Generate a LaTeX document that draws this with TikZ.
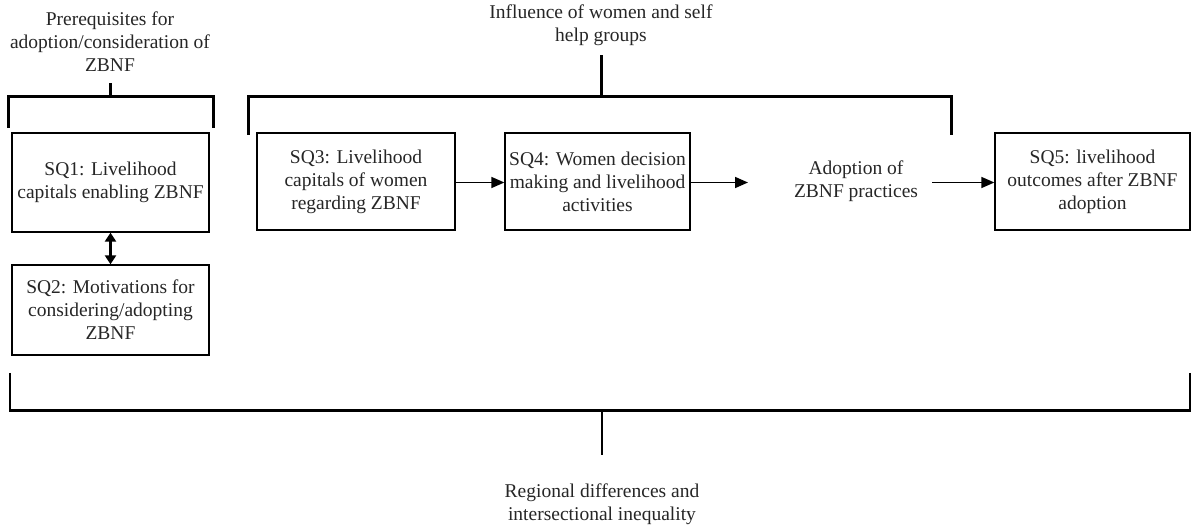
\documentclass[tikz,border=0pt]{standalone}
\usepackage{fontspec}
\setmainfont{Liberation Serif}
\usetikzlibrary{arrows.meta}
\begin{document}
\begin{tikzpicture}[x=1pt,y=-1pt,
  txt/.style={font=\fontsize{19.5}{23}\selectfont, text=black!85},
  box/.style={txt, draw, line width=1.3pt, align=center, inner sep=0pt},
  lbl/.style={txt, align=center, inner sep=0pt},
  brk/.style={line width=3pt},
  arr/.style={line width=1.6pt, -{Triangle[length=13pt,width=11pt]}},
  darr/.style={line width=2.4pt, {Triangle[length=9pt,width=11pt]}-{Triangle[length=9pt,width=11pt]}}]
\useasboundingbox (0,0) rectangle (1195,529);

% labels
\node[lbl] (pre) at (110,42) {Prerequisites for\\adoption/consideration of\\ZBNF};
\node[lbl] (inf) at (601,25) {Influence of women and self\\help groups};
\node[lbl] (reg) at (602,504) {Regional differences and\\intersectional inequality};

% boxes
\node[box, minimum width=197pt, minimum height=99pt] (sq1) at (110.5,182.5) {SQ1: Livelihood\\capitals enabling ZBNF};
\node[box, minimum width=197pt, minimum height=90pt] (sq2) at (110.5,310) {SQ2: Motivations for\\considering/adopting\\ZBNF};
\node[box, minimum width=198pt, minimum height=97pt] (sq3) at (356,181.5) {SQ3: Livelihood\\capitals of women\\regarding ZBNF};
\node[box, minimum width=185pt, minimum height=97pt] (sq4) at (597.5,181.5) {SQ4: Women decision\\making and livelihood\\activities};
\node[lbl] (adopt) at (856,181.5) {Adoption of\\ZBNF practices};
\node[box, minimum width=195pt, minimum height=97pt] (sq5) at (1092.5,181.5) {SQ5: livelihood\\outcomes after ZBNF\\adoption};

% brackets
\draw[brk] (8,128) -- (8,97) -- (213,97) -- (213,128);
\draw[brk] (110,97) -- (110,83);
\draw[brk] (248,135) -- (248,97) -- (951,97) -- (951,135);
\draw[brk] (601,97) -- (601,55);
\draw[line width=2pt] (10,373) -- (10,411);
\draw[line width=2pt] (1190,373) -- (1190,411);
\draw[brk] (9,411) -- (1191,411);
\draw[line width=2pt] (602,411) -- (602,455);

% connectors
\coordinate (a4) at (748,182.5);
\coordinate (a5) at (932,182.5);
\draw[darr] (sq1.south) -- (sq2.north);
\draw[arr] (sq3.east |- a4) -- (sq4.west |- a4);
\draw[arr] (sq4.east |- a4) -- (a4);
\draw[arr] (a5) -- (sq5.west |- a5);
\end{tikzpicture}
\end{document}
